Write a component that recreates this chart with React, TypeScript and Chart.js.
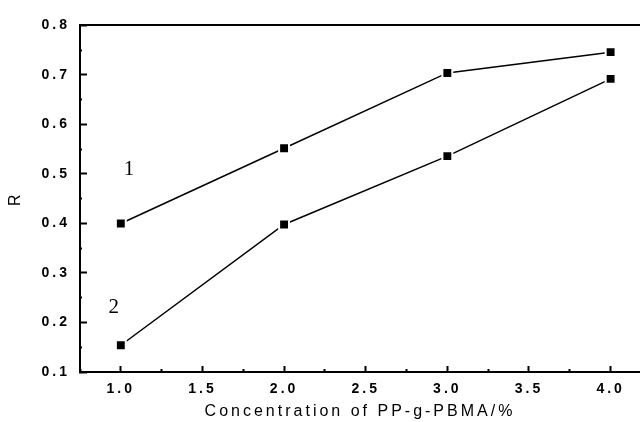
import React, { useEffect, useRef } from "react";
import { Chart, registerables } from "chart.js";

Chart.register(...registerables);

// ---- data ----
const xValues = [1, 2, 3, 4];
const series1 = [0.4, 0.552, 0.704, 0.746];
const series2 = [0.154, 0.398, 0.536, 0.692];
const seriesNames = ["1", "2"];
const nameX = [1.05, 0.957];
const nameY = [0.508, 0.23];
const xMin = 0.75;
const xMax = 4.18;
const yMin = 0.1;
const yMax = 0.8;
const xTitle = "Concentration of PP-g-PBMA/%";
const yTitle = "R";

const isMajor = (v: number, step: number) =>
  Math.abs(v / step - Math.round(v / step)) < 1e-6;

const FONT = '"Liberation Sans", Arial, sans-serif';

const spacingPlugin = {
  id: "spacing",
  beforeDraw(chart: any) {
    (chart.ctx as any).letterSpacing = "3px";
  },
  afterDraw(chart: any) {
    (chart.ctx as any).letterSpacing = "0px";
  },
};

const namePlugin = {
  id: "seriesNames",
  afterDatasetsDraw(chart: any) {
    const { ctx, scales } = chart;
    const x = scales.x;
    const y = scales.y;
    ctx.save();
    (ctx as any).letterSpacing = "0px";
    ctx.font = '21px "Liberation Serif", serif';
    ctx.fillStyle = "#000";
    ctx.textAlign = "center";
    ctx.textBaseline = "middle";
    seriesNames.forEach((n, i) => {
      ctx.fillText(n, x.getPixelForValue(nameX[i]), y.getPixelForValue(nameY[i]));
    });
    ctx.restore();
  },
};

export default function App() {
  const ref = useRef<HTMLCanvasElement | null>(null);

  useEffect(() => {
    if (!ref.current) return;
    const mk = (vals: number[]) => xValues.map((x, i) => ({ x, y: vals[i] }));
    const ds = (vals: number[]) => ({
      data: mk(vals),
      borderColor: "#000",
      borderWidth: 1.5,
      pointStyle: "rect",
      pointRadius: 7,
      pointBackgroundColor: "#000",
      pointBorderColor: "#fff",
      pointBorderWidth: 2,
      tension: 0,
      clip: false,
    });
    const chart = new Chart(ref.current, {
      type: "line",
      data: { datasets: [ds(series1) as any, ds(series2) as any] },
      plugins: [spacingPlugin as any, namePlugin as any],
      options: {
        animation: false,
        responsive: false,
        devicePixelRatio: 1,
        layout: { padding: 0, autoPadding: false },
        plugins: { legend: { display: false }, tooltip: { enabled: false } },
        scales: {
          x: {
            type: "linear",
            position: "bottom",
            min: xMin,
            max: xMax,
            afterFit: (s: any) => {
              s.height = 50;
            },
            border: { display: true, color: "#000", width: 2 },
            grid: {
              display: true,
              drawOnChartArea: false,
              drawTicks: true,
              tickLength: -6,
              tickColor: "#000",
              tickWidth: 2,
              tickBorderDash: (c: any) =>
                c.tick && isMajor(c.tick.value, 0.5) ? [] : [4, 20],
            },
            ticks: {
              stepSize: 0.25,
              includeBounds: false,
              padding: 15,
              color: "#000",
              maxRotation: 0,
              autoSkip: false,
              font: { family: FONT, size: 14, weight: "bold" },
              callback: (v: any) => (isMajor(Number(v), 0.5) ? Number(v).toFixed(1) : ""),
            },
            title: {
              display: true,
              text: xTitle,
              color: "#000",
              padding: { top: 0, bottom: 1 },
              font: { family: FONT, size: 16 },
            },
          },
          x2: {
            type: "linear",
            position: "top",
            min: xMin,
            max: xMax,
            afterFit: (s: any) => {
              s.height = 22;
            },
            border: { display: true, color: "#000", width: 2 },
            grid: { display: false, drawTicks: false },
            ticks: { display: false },
          },
          y: {
            type: "linear",
            position: "left",
            min: yMin,
            max: yMax,
            afterFit: (s: any) => {
              s.width = 80;
            },
            border: { display: true, color: "#000", width: 2 },
            grid: {
              display: true,
              drawOnChartArea: false,
              drawTicks: true,
              tickLength: -7,
              tickColor: "#000",
              tickWidth: 2,
              tickBorderDash: (c: any) =>
                c.tick && isMajor(c.tick.value, 0.1) ? [] : [0, 5, 4, 20],
            },
            ticks: {
              stepSize: 0.05,
              includeBounds: false,
              padding: 17,
              color: "#000",
              autoSkip: false,
              font: { family: FONT, size: 14, weight: "bold" },
              callback: (v: any) => (isMajor(Number(v), 0.1) ? Number(v).toFixed(1) : ""),
            },
            title: {
              display: true,
              text: yTitle,
              color: "#000",
              padding: { top: 6, bottom: 0 },
              font: { family: FONT, size: 16 },
            },
          },
        },
      } as any,
    });
    return () => chart.destroy();
  }, []);

  return (
    <div style={{ position: "absolute", left: 0, top: 0, width: 640, height: 422, background: "#fff" }}>
      <canvas ref={ref} width={640} height={422} style={{ display: "block" }} />
    </div>
  );
}
